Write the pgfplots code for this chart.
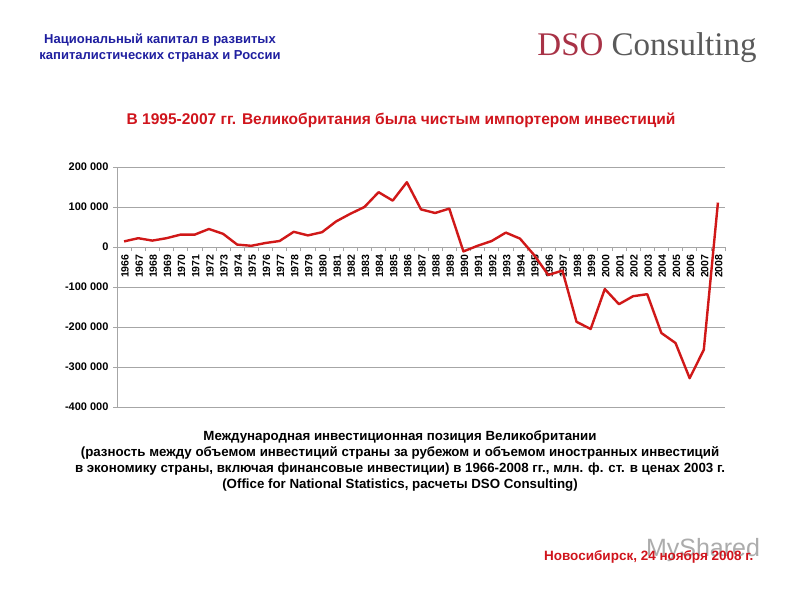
\documentclass[border=0pt]{standalone}
\usepackage{fontspec}
\setmainfont{Liberation Sans}
\newfontfamily\seriffont{Liberation Serif}
\usepackage{pgfplots}
\pgfplotsset{compat=1.18}
\definecolor{titleblue}{HTML}{1F1FA0}
\definecolor{titlered}{HTML}{D0141C}
\definecolor{linered}{HTML}{D01818}
\definecolor{dsored}{HTML}{A83246}
\definecolor{dsogray}{HTML}{5A5A5A}
\definecolor{gridgray}{HTML}{A6A6A6}

\begin{document}
\begin{tikzpicture}[x=1pt,y=1pt]
  \useasboundingbox (0,0) rectangle (800,600);
  \fill[white] (0,0) rectangle (800,600);

  % header
  \node[align=center, text=titleblue, font=\bfseries\fontsize{13}{16}\selectfont] at (160,552)
    {Национальный капитал в развитых\\капиталистических странах и России};
  \node[font=\seriffont\fontsize{33}{36}\selectfont] at (647,552)
    {\textcolor{dsored}{DSO} \textcolor{dsogray}{Consulting}};
  \node[text=titlered, font=\bfseries\fontsize{15.5}{18}\selectfont] at (401,480)
    {В 1995-2007 гг. Великобритания была чистым импортером инвестиций};

  \begin{axis}[
    at={(117pt,193pt)}, anchor=south west,
    width=608pt, height=240pt, scale only axis,
    xmin=1965.5, xmax=2008.5,
    ymin=-400000, ymax=200000,
    axis x line=middle, axis y line=left,
    axis line style={-, draw=gridgray, line width=0.8pt},
    ymajorgrids, grid style={draw=gridgray, line width=0.8pt},
    xtick={1966,1967,...,2008}, major x tick style={draw=none},
    minor xtick={1965.5,1966.5,...,2008.5},
    minor x tick style={draw=gridgray, line width=0.6pt},
    tick align=outside, minor tick length=4pt, major tick length=4pt,
    ytick={-400000,-300000,-200000,-100000,0,100000,200000},
    yticklabels={-400 000,-300 000,-200 000,-100 000,0,100 000,200 000},
    scaled y ticks=false,
    y tick style={draw=gridgray},
    /pgf/number format/assume math mode=true,
    x tick label style={/pgf/number format/1000 sep={}, rotate=90, anchor=east,
      font=\bfseries\fontsize{10.5}{11}\selectfont, yshift=-1pt},
    y tick label style={font=\bfseries\fontsize{11}{12}\selectfont, xshift=-1pt},
  ]
    \addplot[draw=linered, line width=2.4pt, line join=round, mark=none] coordinates {
      (1966,14000) (1967,22000) (1968,16000) (1969,22000) (1970,31000)
      (1971,31000) (1972,45000) (1973,33000) (1974,6000) (1975,3000)
      (1976,10000) (1977,15000) (1978,38000) (1979,29000) (1980,37000)
      (1981,64000) (1982,83000) (1983,100000) (1984,137000) (1985,116000)
      (1986,162000) (1987,94000) (1988,85000) (1989,96000) (1990,-11000)
      (1991,3000) (1992,15000) (1993,36000) (1994,21000) (1995,-20000)
      (1996,-70000) (1997,-59000) (1998,-187000) (1999,-205000) (2000,-105000)
      (2001,-143000) (2002,-123000) (2003,-118000) (2004,-215000) (2005,-240000)
      (2006,-328000) (2007,-257000) (2008,111000)
    };
  \end{axis}

  % caption
  \node[align=center, font=\bfseries\fontsize{13.3}{16}\selectfont] at (400,139)
    {Международная инвестиционная позиция Великобритании\\
     (разность между объемом инвестиций страны за рубежом и объемом иностранных инвестиций\\
     в экономику страны, включая финансовые инвестиции) в 1966-2008 гг., млн. ф. ст. в ценах 2003 г.\\
     (Office for National Statistics, расчеты DSO Consulting)};

  % footer
  \node[text=dsogray, opacity=0.5, font=\fontsize{25}{27}\selectfont] at (703,50) {MyShared};
  \node[anchor=east, text=titlered, font=\bfseries\fontsize{13.5}{15}\selectfont] at (757,43)
    {Новосибирск, 24 ноября 2008 г.};
\end{tikzpicture}
\end{document}
